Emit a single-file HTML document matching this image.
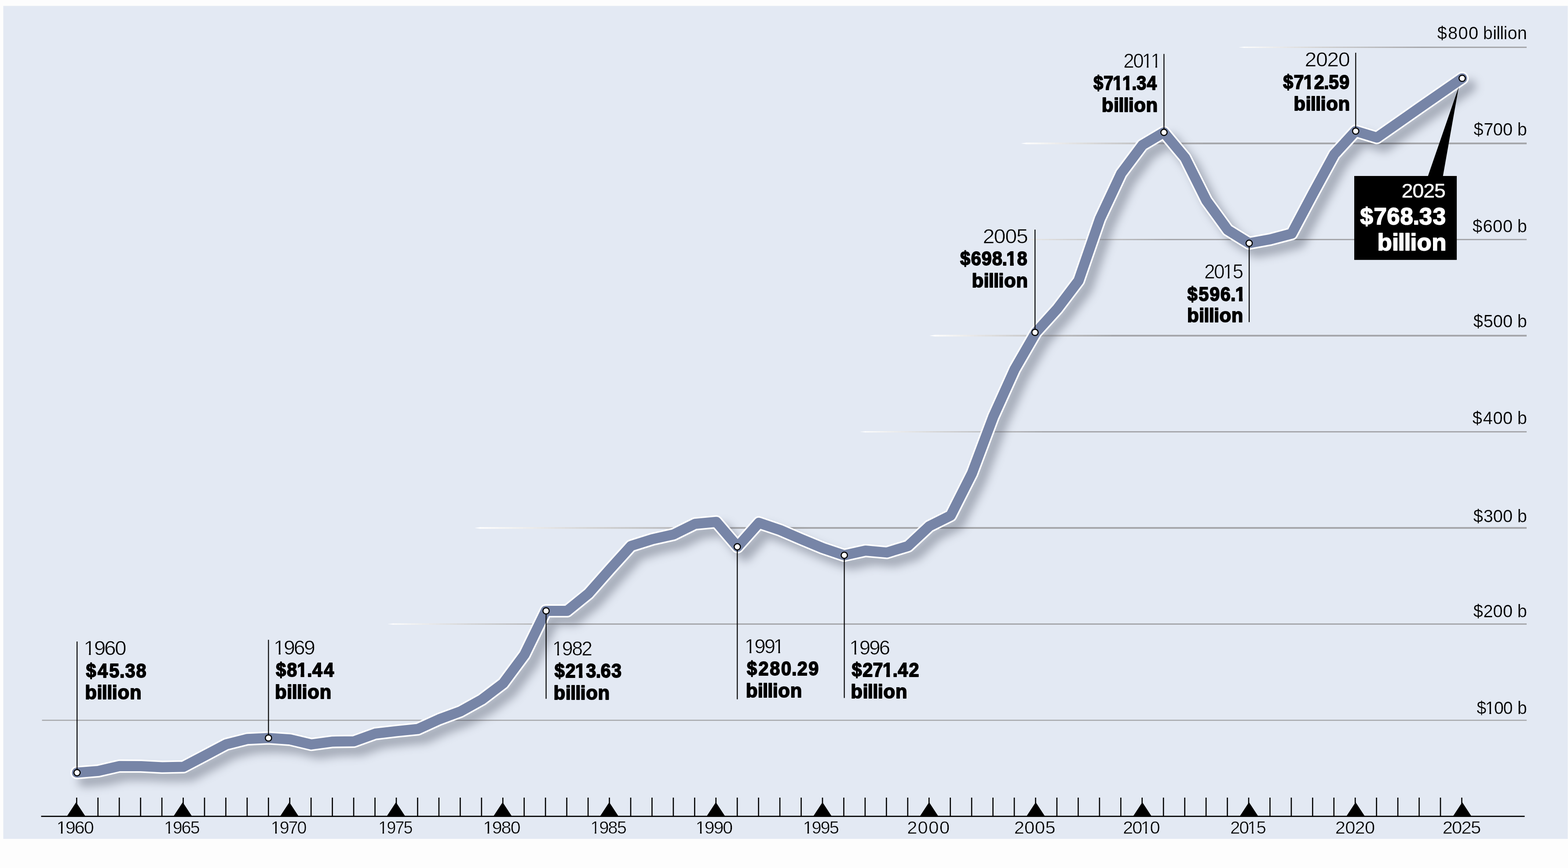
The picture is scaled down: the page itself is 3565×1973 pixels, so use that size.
<!DOCTYPE html>
<html lang="en"><head><meta charset="utf-8"><title>US military spending 1960-2025</title>
<style>
html,body{margin:0;padding:0;background:#fdfdfd;}
body{width:3565px;height:1973px;overflow:hidden;}
svg{display:block;}
text{font-family:"Liberation Sans",sans-serif;white-space:pre;}
.casing{filter:drop-shadow(17px 18px 10px rgba(28,36,54,0.31));}
</style></head><body>
<svg width="3565" height="1973" viewBox="0 0 3565 1973" role="img" aria-label="US military spending, 1960 to 2025">
<rect x="0" y="0" width="3565" height="1973" fill="#fdfdfd"/>
<rect x="7.5" y="13.4" width="3556.9" height="1893.4" fill="#e3e9f3"/>
<g>
<path d="M2816,107.5 L2830,106.0 L2830,109.0 Z" fill="#ffffff"/>
<rect x="2830" y="106.0" width="8.5" height="3" fill="#fbfbfb"/>
<rect x="2838" y="106.0" width="8.5" height="3" fill="#f9f9f9"/>
<rect x="2846" y="106.0" width="8.5" height="3" fill="#f8f8f8"/>
<rect x="2854" y="106.0" width="8.5" height="3" fill="#f6f6f6"/>
<rect x="2862" y="106.0" width="8.5" height="3" fill="#f4f4f4"/>
<rect x="2870" y="106.0" width="8.5" height="3" fill="#f2f2f2"/>
<rect x="2878" y="106.0" width="8.5" height="3" fill="#f0f0f0"/>
<rect x="2886" y="106.0" width="8.5" height="3" fill="#eeeeee"/>
<rect x="2894" y="106.0" width="8.5" height="3" fill="#ececec"/>
<rect x="2902" y="106.0" width="8.5" height="3" fill="#eaeaeb"/>
<rect x="2910" y="106.0" width="8.5" height="3" fill="#e8e8e9"/>
<rect x="2918" y="106.0" width="8.5" height="3" fill="#e6e6e7"/>
<rect x="2926" y="106.0" width="8.5" height="3" fill="#e4e4e5"/>
<rect x="2934" y="106.0" width="8.5" height="3" fill="#e2e2e3"/>
<rect x="2942" y="106.0" width="8.5" height="3" fill="#e0e0e1"/>
<rect x="2950" y="106.0" width="8.5" height="3" fill="#dfdfdf"/>
<rect x="2958" y="106.0" width="8.5" height="3" fill="#dddddd"/>
<rect x="2966" y="106.0" width="8.5" height="3" fill="#dbdbdb"/>
<rect x="2974" y="106.0" width="8.5" height="3" fill="#d9d9d9"/>
<rect x="2982" y="106.0" width="8.5" height="3" fill="#d7d7d8"/>
<rect x="2990" y="106.0" width="8.5" height="3" fill="#d5d5d6"/>
<rect x="2998" y="106.0" width="8.5" height="3" fill="#d3d3d4"/>
<rect x="3006" y="106.0" width="8.5" height="3" fill="#d1d1d2"/>
<rect x="3014" y="106.0" width="8.5" height="3" fill="#d0d0d1"/>
<rect x="3022" y="106.0" width="8.5" height="3" fill="#cececf"/>
<rect x="3030" y="106.0" width="8.5" height="3" fill="#cccdce"/>
<rect x="3038" y="106.0" width="8.5" height="3" fill="#cbcbcd"/>
<rect x="3046" y="106.0" width="8.5" height="3" fill="#c9cacb"/>
<rect x="3054" y="106.0" width="8.5" height="3" fill="#c8c8ca"/>
<rect x="3062" y="106.0" width="8.5" height="3" fill="#c6c7c8"/>
<rect x="3070" y="106.0" width="8.5" height="3" fill="#c5c5c7"/>
<rect x="3078" y="106.0" width="8.5" height="3" fill="#c3c4c6"/>
<rect x="3086" y="106.0" width="8.5" height="3" fill="#c2c2c4"/>
<rect x="3094" y="106.0" width="8.5" height="3" fill="#c0c1c3"/>
<rect x="3102" y="106.0" width="8.5" height="3" fill="#bfbfc2"/>
<rect x="3110" y="106.0" width="8.5" height="3" fill="#bdbec0"/>
<rect x="3118" y="106.0" width="8.5" height="3" fill="#bcbcbf"/>
<rect x="3126" y="106.0" width="8.5" height="3" fill="#babbbd"/>
<rect x="3134" y="106.0" width="8.5" height="3" fill="#b9b9bc"/>
<rect x="3142" y="106.0" width="8.5" height="3" fill="#b7b8bb"/>
<rect x="3150" y="106.0" width="8.5" height="3" fill="#b6b6b9"/>
<rect x="3158" y="106.0" width="8.5" height="3" fill="#b4b5b8"/>
<rect x="3166" y="106.0" width="8.5" height="3" fill="#b3b3b6"/>
<rect x="3174" y="106.0" width="8.5" height="3" fill="#b1b2b5"/>
<rect x="3182" y="106.0" width="8.5" height="3" fill="#b0b0b4"/>
<rect x="3190" y="106.0" width="8.5" height="3" fill="#aeafb2"/>
<rect x="3198" y="106.0" width="8.5" height="3" fill="#acadb1"/>
<rect x="3206" y="106.0" width="8.5" height="3" fill="#abacb0"/>
<rect x="3214" y="106.0" width="8.5" height="3" fill="#a9aaae"/>
<rect x="3222" y="106.0" width="8.5" height="3" fill="#a8a9ad"/>
<rect x="3230" y="106.0" width="6.5" height="3" fill="#a6a7ab"/>
<rect x="3236" y="106.0" width="235.0" height="3" fill="#a6a7ab"/>
</g>
<g>
<path d="M2321,326.0 L2335,324.0 L2335,328.0 Z" fill="#ffffff"/>
<rect x="2335" y="324.0" width="8.5" height="4" fill="#fbfbfb"/>
<rect x="2343" y="324.0" width="8.5" height="4" fill="#f9f9f9"/>
<rect x="2351" y="324.0" width="8.5" height="4" fill="#f8f8f8"/>
<rect x="2359" y="324.0" width="8.5" height="4" fill="#f6f6f6"/>
<rect x="2367" y="324.0" width="8.5" height="4" fill="#f4f4f4"/>
<rect x="2375" y="324.0" width="8.5" height="4" fill="#f2f2f2"/>
<rect x="2383" y="324.0" width="8.5" height="4" fill="#f0f0f0"/>
<rect x="2391" y="324.0" width="8.5" height="4" fill="#eeeeee"/>
<rect x="2399" y="324.0" width="8.5" height="4" fill="#ececec"/>
<rect x="2407" y="324.0" width="8.5" height="4" fill="#eaeaeb"/>
<rect x="2415" y="324.0" width="8.5" height="4" fill="#e8e8e9"/>
<rect x="2423" y="324.0" width="8.5" height="4" fill="#e6e6e7"/>
<rect x="2431" y="324.0" width="8.5" height="4" fill="#e4e4e5"/>
<rect x="2439" y="324.0" width="8.5" height="4" fill="#e2e2e3"/>
<rect x="2447" y="324.0" width="8.5" height="4" fill="#e0e0e1"/>
<rect x="2455" y="324.0" width="8.5" height="4" fill="#dfdfdf"/>
<rect x="2463" y="324.0" width="8.5" height="4" fill="#dddddd"/>
<rect x="2471" y="324.0" width="8.5" height="4" fill="#dbdbdb"/>
<rect x="2479" y="324.0" width="8.5" height="4" fill="#d9d9d9"/>
<rect x="2487" y="324.0" width="8.5" height="4" fill="#d7d7d8"/>
<rect x="2495" y="324.0" width="8.5" height="4" fill="#d5d5d6"/>
<rect x="2503" y="324.0" width="8.5" height="4" fill="#d3d3d4"/>
<rect x="2511" y="324.0" width="8.5" height="4" fill="#d1d1d2"/>
<rect x="2519" y="324.0" width="8.5" height="4" fill="#d0d0d1"/>
<rect x="2527" y="324.0" width="8.5" height="4" fill="#cececf"/>
<rect x="2535" y="324.0" width="8.5" height="4" fill="#cccdce"/>
<rect x="2543" y="324.0" width="8.5" height="4" fill="#cbcbcd"/>
<rect x="2551" y="324.0" width="8.5" height="4" fill="#c9cacb"/>
<rect x="2559" y="324.0" width="8.5" height="4" fill="#c8c8ca"/>
<rect x="2567" y="324.0" width="8.5" height="4" fill="#c6c7c8"/>
<rect x="2575" y="324.0" width="8.5" height="4" fill="#c5c5c7"/>
<rect x="2583" y="324.0" width="8.5" height="4" fill="#c3c4c6"/>
<rect x="2591" y="324.0" width="8.5" height="4" fill="#c2c2c4"/>
<rect x="2599" y="324.0" width="8.5" height="4" fill="#c0c1c3"/>
<rect x="2607" y="324.0" width="8.5" height="4" fill="#bfbfc2"/>
<rect x="2615" y="324.0" width="8.5" height="4" fill="#bdbec0"/>
<rect x="2623" y="324.0" width="8.5" height="4" fill="#bcbcbf"/>
<rect x="2631" y="324.0" width="8.5" height="4" fill="#babbbd"/>
<rect x="2639" y="324.0" width="8.5" height="4" fill="#b9b9bc"/>
<rect x="2647" y="324.0" width="8.5" height="4" fill="#b7b8bb"/>
<rect x="2655" y="324.0" width="8.5" height="4" fill="#b6b6b9"/>
<rect x="2663" y="324.0" width="8.5" height="4" fill="#b4b5b8"/>
<rect x="2671" y="324.0" width="8.5" height="4" fill="#b3b3b6"/>
<rect x="2679" y="324.0" width="8.5" height="4" fill="#b1b2b5"/>
<rect x="2687" y="324.0" width="8.5" height="4" fill="#b0b0b4"/>
<rect x="2695" y="324.0" width="8.5" height="4" fill="#aeafb2"/>
<rect x="2703" y="324.0" width="8.5" height="4" fill="#acadb1"/>
<rect x="2711" y="324.0" width="8.5" height="4" fill="#abacb0"/>
<rect x="2719" y="324.0" width="8.5" height="4" fill="#a9aaae"/>
<rect x="2727" y="324.0" width="8.5" height="4" fill="#a8a9ad"/>
<rect x="2735" y="324.0" width="6.5" height="4" fill="#a6a7ab"/>
<rect x="2741" y="324.0" width="730.0" height="4" fill="#a6a7ab"/>
</g>
<g>
<path d="M2243,544.5 L2257,543.0 L2257,546.0 Z" fill="#ffffff"/>
<rect x="2257" y="543.0" width="8.5" height="3" fill="#fbfbfb"/>
<rect x="2265" y="543.0" width="8.5" height="3" fill="#f9f9f9"/>
<rect x="2273" y="543.0" width="8.5" height="3" fill="#f8f8f8"/>
<rect x="2281" y="543.0" width="8.5" height="3" fill="#f6f6f6"/>
<rect x="2289" y="543.0" width="8.5" height="3" fill="#f4f4f4"/>
<rect x="2297" y="543.0" width="8.5" height="3" fill="#f2f2f2"/>
<rect x="2305" y="543.0" width="8.5" height="3" fill="#f0f0f0"/>
<rect x="2313" y="543.0" width="8.5" height="3" fill="#eeeeee"/>
<rect x="2321" y="543.0" width="8.5" height="3" fill="#ececec"/>
<rect x="2329" y="543.0" width="8.5" height="3" fill="#eaeaeb"/>
<rect x="2337" y="543.0" width="8.5" height="3" fill="#e8e8e9"/>
<rect x="2345" y="543.0" width="8.5" height="3" fill="#e6e6e7"/>
<rect x="2353" y="543.0" width="8.5" height="3" fill="#e4e4e5"/>
<rect x="2361" y="543.0" width="8.5" height="3" fill="#e2e2e3"/>
<rect x="2369" y="543.0" width="8.5" height="3" fill="#e0e0e1"/>
<rect x="2377" y="543.0" width="8.5" height="3" fill="#dfdfdf"/>
<rect x="2385" y="543.0" width="8.5" height="3" fill="#dddddd"/>
<rect x="2393" y="543.0" width="8.5" height="3" fill="#dbdbdb"/>
<rect x="2401" y="543.0" width="8.5" height="3" fill="#d9d9d9"/>
<rect x="2409" y="543.0" width="8.5" height="3" fill="#d7d7d8"/>
<rect x="2417" y="543.0" width="8.5" height="3" fill="#d5d5d6"/>
<rect x="2425" y="543.0" width="8.5" height="3" fill="#d3d3d4"/>
<rect x="2433" y="543.0" width="8.5" height="3" fill="#d1d1d2"/>
<rect x="2441" y="543.0" width="8.5" height="3" fill="#d0d0d1"/>
<rect x="2449" y="543.0" width="8.5" height="3" fill="#cececf"/>
<rect x="2457" y="543.0" width="8.5" height="3" fill="#cccdce"/>
<rect x="2465" y="543.0" width="8.5" height="3" fill="#cbcbcd"/>
<rect x="2473" y="543.0" width="8.5" height="3" fill="#c9cacb"/>
<rect x="2481" y="543.0" width="8.5" height="3" fill="#c8c8ca"/>
<rect x="2489" y="543.0" width="8.5" height="3" fill="#c6c7c8"/>
<rect x="2497" y="543.0" width="8.5" height="3" fill="#c5c5c7"/>
<rect x="2505" y="543.0" width="8.5" height="3" fill="#c3c4c6"/>
<rect x="2513" y="543.0" width="8.5" height="3" fill="#c2c2c4"/>
<rect x="2521" y="543.0" width="8.5" height="3" fill="#c0c1c3"/>
<rect x="2529" y="543.0" width="8.5" height="3" fill="#bfbfc2"/>
<rect x="2537" y="543.0" width="8.5" height="3" fill="#bdbec0"/>
<rect x="2545" y="543.0" width="8.5" height="3" fill="#bcbcbf"/>
<rect x="2553" y="543.0" width="8.5" height="3" fill="#babbbd"/>
<rect x="2561" y="543.0" width="8.5" height="3" fill="#b9b9bc"/>
<rect x="2569" y="543.0" width="8.5" height="3" fill="#b7b8bb"/>
<rect x="2577" y="543.0" width="8.5" height="3" fill="#b6b6b9"/>
<rect x="2585" y="543.0" width="8.5" height="3" fill="#b4b5b8"/>
<rect x="2593" y="543.0" width="8.5" height="3" fill="#b3b3b6"/>
<rect x="2601" y="543.0" width="8.5" height="3" fill="#b1b2b5"/>
<rect x="2609" y="543.0" width="8.5" height="3" fill="#b0b0b4"/>
<rect x="2617" y="543.0" width="8.5" height="3" fill="#aeafb2"/>
<rect x="2625" y="543.0" width="8.5" height="3" fill="#acadb1"/>
<rect x="2633" y="543.0" width="8.5" height="3" fill="#abacb0"/>
<rect x="2641" y="543.0" width="8.5" height="3" fill="#a9aaae"/>
<rect x="2649" y="543.0" width="8.5" height="3" fill="#a8a9ad"/>
<rect x="2657" y="543.0" width="6.5" height="3" fill="#a6a7ab"/>
<rect x="2663" y="543.0" width="808.0" height="3" fill="#a6a7ab"/>
</g>
<g>
<path d="M2113,763.0 L2127,761.0 L2127,765.0 Z" fill="#ffffff"/>
<rect x="2127" y="761.0" width="8.5" height="4" fill="#fbfbfb"/>
<rect x="2135" y="761.0" width="8.5" height="4" fill="#f9f9f9"/>
<rect x="2143" y="761.0" width="8.5" height="4" fill="#f8f8f8"/>
<rect x="2151" y="761.0" width="8.5" height="4" fill="#f6f6f6"/>
<rect x="2159" y="761.0" width="8.5" height="4" fill="#f4f4f4"/>
<rect x="2167" y="761.0" width="8.5" height="4" fill="#f2f2f2"/>
<rect x="2175" y="761.0" width="8.5" height="4" fill="#f0f0f0"/>
<rect x="2183" y="761.0" width="8.5" height="4" fill="#eeeeee"/>
<rect x="2191" y="761.0" width="8.5" height="4" fill="#ececec"/>
<rect x="2199" y="761.0" width="8.5" height="4" fill="#eaeaeb"/>
<rect x="2207" y="761.0" width="8.5" height="4" fill="#e8e8e9"/>
<rect x="2215" y="761.0" width="8.5" height="4" fill="#e6e6e7"/>
<rect x="2223" y="761.0" width="8.5" height="4" fill="#e4e4e5"/>
<rect x="2231" y="761.0" width="8.5" height="4" fill="#e2e2e3"/>
<rect x="2239" y="761.0" width="8.5" height="4" fill="#e0e0e1"/>
<rect x="2247" y="761.0" width="8.5" height="4" fill="#dfdfdf"/>
<rect x="2255" y="761.0" width="8.5" height="4" fill="#dddddd"/>
<rect x="2263" y="761.0" width="8.5" height="4" fill="#dbdbdb"/>
<rect x="2271" y="761.0" width="8.5" height="4" fill="#d9d9d9"/>
<rect x="2279" y="761.0" width="8.5" height="4" fill="#d7d7d8"/>
<rect x="2287" y="761.0" width="8.5" height="4" fill="#d5d5d6"/>
<rect x="2295" y="761.0" width="8.5" height="4" fill="#d3d3d4"/>
<rect x="2303" y="761.0" width="8.5" height="4" fill="#d1d1d2"/>
<rect x="2311" y="761.0" width="8.5" height="4" fill="#d0d0d1"/>
<rect x="2319" y="761.0" width="8.5" height="4" fill="#cececf"/>
<rect x="2327" y="761.0" width="8.5" height="4" fill="#cccdce"/>
<rect x="2335" y="761.0" width="8.5" height="4" fill="#cbcbcd"/>
<rect x="2343" y="761.0" width="8.5" height="4" fill="#c9cacb"/>
<rect x="2351" y="761.0" width="8.5" height="4" fill="#c8c8ca"/>
<rect x="2359" y="761.0" width="8.5" height="4" fill="#c6c7c8"/>
<rect x="2367" y="761.0" width="8.5" height="4" fill="#c5c5c7"/>
<rect x="2375" y="761.0" width="8.5" height="4" fill="#c3c4c6"/>
<rect x="2383" y="761.0" width="8.5" height="4" fill="#c2c2c4"/>
<rect x="2391" y="761.0" width="8.5" height="4" fill="#c0c1c3"/>
<rect x="2399" y="761.0" width="8.5" height="4" fill="#bfbfc2"/>
<rect x="2407" y="761.0" width="8.5" height="4" fill="#bdbec0"/>
<rect x="2415" y="761.0" width="8.5" height="4" fill="#bcbcbf"/>
<rect x="2423" y="761.0" width="8.5" height="4" fill="#babbbd"/>
<rect x="2431" y="761.0" width="8.5" height="4" fill="#b9b9bc"/>
<rect x="2439" y="761.0" width="8.5" height="4" fill="#b7b8bb"/>
<rect x="2447" y="761.0" width="8.5" height="4" fill="#b6b6b9"/>
<rect x="2455" y="761.0" width="8.5" height="4" fill="#b4b5b8"/>
<rect x="2463" y="761.0" width="8.5" height="4" fill="#b3b3b6"/>
<rect x="2471" y="761.0" width="8.5" height="4" fill="#b1b2b5"/>
<rect x="2479" y="761.0" width="8.5" height="4" fill="#b0b0b4"/>
<rect x="2487" y="761.0" width="8.5" height="4" fill="#aeafb2"/>
<rect x="2495" y="761.0" width="8.5" height="4" fill="#acadb1"/>
<rect x="2503" y="761.0" width="8.5" height="4" fill="#abacb0"/>
<rect x="2511" y="761.0" width="8.5" height="4" fill="#a9aaae"/>
<rect x="2519" y="761.0" width="8.5" height="4" fill="#a8a9ad"/>
<rect x="2527" y="761.0" width="6.5" height="4" fill="#a6a7ab"/>
<rect x="2533" y="761.0" width="938.0" height="4" fill="#a6a7ab"/>
</g>
<g>
<path d="M1955,981.5 L1969,980.0 L1969,983.0 Z" fill="#ffffff"/>
<rect x="1969" y="980.0" width="8.5" height="3" fill="#fbfbfb"/>
<rect x="1977" y="980.0" width="8.5" height="3" fill="#f9f9f9"/>
<rect x="1985" y="980.0" width="8.5" height="3" fill="#f8f8f8"/>
<rect x="1993" y="980.0" width="8.5" height="3" fill="#f6f6f6"/>
<rect x="2001" y="980.0" width="8.5" height="3" fill="#f4f4f4"/>
<rect x="2009" y="980.0" width="8.5" height="3" fill="#f2f2f2"/>
<rect x="2017" y="980.0" width="8.5" height="3" fill="#f0f0f0"/>
<rect x="2025" y="980.0" width="8.5" height="3" fill="#eeeeee"/>
<rect x="2033" y="980.0" width="8.5" height="3" fill="#ececec"/>
<rect x="2041" y="980.0" width="8.5" height="3" fill="#eaeaeb"/>
<rect x="2049" y="980.0" width="8.5" height="3" fill="#e8e8e9"/>
<rect x="2057" y="980.0" width="8.5" height="3" fill="#e6e6e7"/>
<rect x="2065" y="980.0" width="8.5" height="3" fill="#e4e4e5"/>
<rect x="2073" y="980.0" width="8.5" height="3" fill="#e2e2e3"/>
<rect x="2081" y="980.0" width="8.5" height="3" fill="#e0e0e1"/>
<rect x="2089" y="980.0" width="8.5" height="3" fill="#dfdfdf"/>
<rect x="2097" y="980.0" width="8.5" height="3" fill="#dddddd"/>
<rect x="2105" y="980.0" width="8.5" height="3" fill="#dbdbdb"/>
<rect x="2113" y="980.0" width="8.5" height="3" fill="#d9d9d9"/>
<rect x="2121" y="980.0" width="8.5" height="3" fill="#d7d7d8"/>
<rect x="2129" y="980.0" width="8.5" height="3" fill="#d5d5d6"/>
<rect x="2137" y="980.0" width="8.5" height="3" fill="#d3d3d4"/>
<rect x="2145" y="980.0" width="8.5" height="3" fill="#d1d1d2"/>
<rect x="2153" y="980.0" width="8.5" height="3" fill="#d0d0d1"/>
<rect x="2161" y="980.0" width="8.5" height="3" fill="#cececf"/>
<rect x="2169" y="980.0" width="8.5" height="3" fill="#cccdce"/>
<rect x="2177" y="980.0" width="8.5" height="3" fill="#cbcbcd"/>
<rect x="2185" y="980.0" width="8.5" height="3" fill="#c9cacb"/>
<rect x="2193" y="980.0" width="8.5" height="3" fill="#c8c8ca"/>
<rect x="2201" y="980.0" width="8.5" height="3" fill="#c6c7c8"/>
<rect x="2209" y="980.0" width="8.5" height="3" fill="#c5c5c7"/>
<rect x="2217" y="980.0" width="8.5" height="3" fill="#c3c4c6"/>
<rect x="2225" y="980.0" width="8.5" height="3" fill="#c2c2c4"/>
<rect x="2233" y="980.0" width="8.5" height="3" fill="#c0c1c3"/>
<rect x="2241" y="980.0" width="8.5" height="3" fill="#bfbfc2"/>
<rect x="2249" y="980.0" width="8.5" height="3" fill="#bdbec0"/>
<rect x="2257" y="980.0" width="8.5" height="3" fill="#bcbcbf"/>
<rect x="2265" y="980.0" width="8.5" height="3" fill="#babbbd"/>
<rect x="2273" y="980.0" width="8.5" height="3" fill="#b9b9bc"/>
<rect x="2281" y="980.0" width="8.5" height="3" fill="#b7b8bb"/>
<rect x="2289" y="980.0" width="8.5" height="3" fill="#b6b6b9"/>
<rect x="2297" y="980.0" width="8.5" height="3" fill="#b4b5b8"/>
<rect x="2305" y="980.0" width="8.5" height="3" fill="#b3b3b6"/>
<rect x="2313" y="980.0" width="8.5" height="3" fill="#b1b2b5"/>
<rect x="2321" y="980.0" width="8.5" height="3" fill="#b0b0b4"/>
<rect x="2329" y="980.0" width="8.5" height="3" fill="#aeafb2"/>
<rect x="2337" y="980.0" width="8.5" height="3" fill="#acadb1"/>
<rect x="2345" y="980.0" width="8.5" height="3" fill="#abacb0"/>
<rect x="2353" y="980.0" width="8.5" height="3" fill="#a9aaae"/>
<rect x="2361" y="980.0" width="8.5" height="3" fill="#a8a9ad"/>
<rect x="2369" y="980.0" width="6.5" height="3" fill="#a6a7ab"/>
<rect x="2375" y="980.0" width="1096.0" height="3" fill="#a6a7ab"/>
</g>
<g>
<path d="M1079,1200.0 L1093,1198.0 L1093,1202.0 Z" fill="#ffffff"/>
<rect x="1093" y="1198.0" width="8.5" height="4" fill="#fcfcfc"/>
<rect x="1101" y="1198.0" width="8.5" height="4" fill="#fbfbfb"/>
<rect x="1109" y="1198.0" width="8.5" height="4" fill="#fafafa"/>
<rect x="1117" y="1198.0" width="8.5" height="4" fill="#f9f9f9"/>
<rect x="1125" y="1198.0" width="8.5" height="4" fill="#f8f8f8"/>
<rect x="1133" y="1198.0" width="8.5" height="4" fill="#f6f6f6"/>
<rect x="1141" y="1198.0" width="8.5" height="4" fill="#f5f5f5"/>
<rect x="1149" y="1198.0" width="8.5" height="4" fill="#f4f4f4"/>
<rect x="1157" y="1198.0" width="8.5" height="4" fill="#f3f3f3"/>
<rect x="1165" y="1198.0" width="8.5" height="4" fill="#f1f1f1"/>
<rect x="1173" y="1198.0" width="8.5" height="4" fill="#f0f0f0"/>
<rect x="1181" y="1198.0" width="8.5" height="4" fill="#efefef"/>
<rect x="1189" y="1198.0" width="8.5" height="4" fill="#ededee"/>
<rect x="1197" y="1198.0" width="8.5" height="4" fill="#ececec"/>
<rect x="1205" y="1198.0" width="8.5" height="4" fill="#ebebeb"/>
<rect x="1213" y="1198.0" width="8.5" height="4" fill="#e9e9ea"/>
<rect x="1221" y="1198.0" width="8.5" height="4" fill="#e8e8e8"/>
<rect x="1229" y="1198.0" width="8.5" height="4" fill="#e7e7e7"/>
<rect x="1237" y="1198.0" width="8.5" height="4" fill="#e5e5e6"/>
<rect x="1245" y="1198.0" width="8.5" height="4" fill="#e4e4e5"/>
<rect x="1253" y="1198.0" width="8.5" height="4" fill="#e3e3e3"/>
<rect x="1261" y="1198.0" width="8.5" height="4" fill="#e1e1e2"/>
<rect x="1269" y="1198.0" width="8.5" height="4" fill="#e0e0e1"/>
<rect x="1277" y="1198.0" width="8.5" height="4" fill="#dfdfdf"/>
<rect x="1285" y="1198.0" width="8.5" height="4" fill="#ddddde"/>
<rect x="1293" y="1198.0" width="8.5" height="4" fill="#dcdcdd"/>
<rect x="1301" y="1198.0" width="8.5" height="4" fill="#dbdbdc"/>
<rect x="1309" y="1198.0" width="8.5" height="4" fill="#d9d9da"/>
<rect x="1317" y="1198.0" width="8.5" height="4" fill="#d8d8d9"/>
<rect x="1325" y="1198.0" width="8.5" height="4" fill="#d7d7d8"/>
<rect x="1333" y="1198.0" width="8.5" height="4" fill="#d5d5d6"/>
<rect x="1341" y="1198.0" width="8.5" height="4" fill="#d4d4d5"/>
<rect x="1349" y="1198.0" width="8.5" height="4" fill="#d3d3d4"/>
<rect x="1357" y="1198.0" width="8.5" height="4" fill="#d2d2d3"/>
<rect x="1365" y="1198.0" width="8.5" height="4" fill="#d1d1d2"/>
<rect x="1373" y="1198.0" width="8.5" height="4" fill="#d0d0d1"/>
<rect x="1381" y="1198.0" width="8.5" height="4" fill="#cfcfd0"/>
<rect x="1389" y="1198.0" width="8.5" height="4" fill="#cdcecf"/>
<rect x="1397" y="1198.0" width="8.5" height="4" fill="#cccdce"/>
<rect x="1405" y="1198.0" width="8.5" height="4" fill="#cbcccd"/>
<rect x="1413" y="1198.0" width="8.5" height="4" fill="#cacbcc"/>
<rect x="1421" y="1198.0" width="8.5" height="4" fill="#c9cacb"/>
<rect x="1429" y="1198.0" width="8.5" height="4" fill="#c8c9ca"/>
<rect x="1437" y="1198.0" width="8.5" height="4" fill="#c7c8c9"/>
<rect x="1445" y="1198.0" width="8.5" height="4" fill="#c6c7c8"/>
<rect x="1453" y="1198.0" width="8.5" height="4" fill="#c5c6c7"/>
<rect x="1461" y="1198.0" width="8.5" height="4" fill="#c4c5c6"/>
<rect x="1469" y="1198.0" width="8.5" height="4" fill="#c3c3c6"/>
<rect x="1477" y="1198.0" width="8.5" height="4" fill="#c2c2c5"/>
<rect x="1485" y="1198.0" width="8.5" height="4" fill="#c1c1c4"/>
<rect x="1493" y="1198.0" width="8.5" height="4" fill="#c0c0c3"/>
<rect x="1501" y="1198.0" width="8.5" height="4" fill="#bfbfc2"/>
<rect x="1509" y="1198.0" width="8.5" height="4" fill="#bebec1"/>
<rect x="1517" y="1198.0" width="8.5" height="4" fill="#bdbdc0"/>
<rect x="1525" y="1198.0" width="8.5" height="4" fill="#bcbcbf"/>
<rect x="1533" y="1198.0" width="8.5" height="4" fill="#bbbbbe"/>
<rect x="1541" y="1198.0" width="8.5" height="4" fill="#bababd"/>
<rect x="1549" y="1198.0" width="8.5" height="4" fill="#b9b9bc"/>
<rect x="1557" y="1198.0" width="8.5" height="4" fill="#b8b8bb"/>
<rect x="1565" y="1198.0" width="8.5" height="4" fill="#b7b7ba"/>
<rect x="1573" y="1198.0" width="8.5" height="4" fill="#b6b6b9"/>
<rect x="1581" y="1198.0" width="8.5" height="4" fill="#b5b5b8"/>
<rect x="1589" y="1198.0" width="8.5" height="4" fill="#b4b4b7"/>
<rect x="1597" y="1198.0" width="8.5" height="4" fill="#b3b3b6"/>
<rect x="1605" y="1198.0" width="8.5" height="4" fill="#b2b2b6"/>
<rect x="1613" y="1198.0" width="8.5" height="4" fill="#b1b1b5"/>
<rect x="1621" y="1198.0" width="8.5" height="4" fill="#b0b0b4"/>
<rect x="1629" y="1198.0" width="8.5" height="4" fill="#afafb3"/>
<rect x="1637" y="1198.0" width="8.5" height="4" fill="#adaeb2"/>
<rect x="1645" y="1198.0" width="8.5" height="4" fill="#acadb1"/>
<rect x="1653" y="1198.0" width="8.5" height="4" fill="#abacb0"/>
<rect x="1661" y="1198.0" width="8.5" height="4" fill="#aaabaf"/>
<rect x="1669" y="1198.0" width="8.5" height="4" fill="#a9aaae"/>
<rect x="1677" y="1198.0" width="8.5" height="4" fill="#a8a9ad"/>
<rect x="1685" y="1198.0" width="8.5" height="4" fill="#a7a8ac"/>
<rect x="1693" y="1198.0" width="6.5" height="4" fill="#a6a7ab"/>
<rect x="1699" y="1198.0" width="1772.0" height="4" fill="#a6a7ab"/>
</g>
<g>
<path d="M881,1418.5 L895,1417.0 L895,1420.0 Z" fill="#ffffff"/>
<rect x="895" y="1417.0" width="8.5" height="3" fill="#fbfbfb"/>
<rect x="903" y="1417.0" width="8.5" height="3" fill="#f9f9f9"/>
<rect x="911" y="1417.0" width="8.5" height="3" fill="#f8f8f8"/>
<rect x="919" y="1417.0" width="8.5" height="3" fill="#f6f6f6"/>
<rect x="927" y="1417.0" width="8.5" height="3" fill="#f4f4f4"/>
<rect x="935" y="1417.0" width="8.5" height="3" fill="#f2f2f2"/>
<rect x="943" y="1417.0" width="8.5" height="3" fill="#f0f0f0"/>
<rect x="951" y="1417.0" width="8.5" height="3" fill="#eeeeee"/>
<rect x="959" y="1417.0" width="8.5" height="3" fill="#ececec"/>
<rect x="967" y="1417.0" width="8.5" height="3" fill="#eaeaeb"/>
<rect x="975" y="1417.0" width="8.5" height="3" fill="#e8e8e9"/>
<rect x="983" y="1417.0" width="8.5" height="3" fill="#e6e6e7"/>
<rect x="991" y="1417.0" width="8.5" height="3" fill="#e4e4e5"/>
<rect x="999" y="1417.0" width="8.5" height="3" fill="#e2e2e3"/>
<rect x="1007" y="1417.0" width="8.5" height="3" fill="#e0e0e1"/>
<rect x="1015" y="1417.0" width="8.5" height="3" fill="#dfdfdf"/>
<rect x="1023" y="1417.0" width="8.5" height="3" fill="#dddddd"/>
<rect x="1031" y="1417.0" width="8.5" height="3" fill="#dbdbdb"/>
<rect x="1039" y="1417.0" width="8.5" height="3" fill="#d9d9d9"/>
<rect x="1047" y="1417.0" width="8.5" height="3" fill="#d7d7d8"/>
<rect x="1055" y="1417.0" width="8.5" height="3" fill="#d5d5d6"/>
<rect x="1063" y="1417.0" width="8.5" height="3" fill="#d3d3d4"/>
<rect x="1071" y="1417.0" width="8.5" height="3" fill="#d1d1d2"/>
<rect x="1079" y="1417.0" width="8.5" height="3" fill="#d0d0d1"/>
<rect x="1087" y="1417.0" width="8.5" height="3" fill="#cececf"/>
<rect x="1095" y="1417.0" width="8.5" height="3" fill="#cccdce"/>
<rect x="1103" y="1417.0" width="8.5" height="3" fill="#cbcbcd"/>
<rect x="1111" y="1417.0" width="8.5" height="3" fill="#c9cacb"/>
<rect x="1119" y="1417.0" width="8.5" height="3" fill="#c8c8ca"/>
<rect x="1127" y="1417.0" width="8.5" height="3" fill="#c6c7c8"/>
<rect x="1135" y="1417.0" width="8.5" height="3" fill="#c5c5c7"/>
<rect x="1143" y="1417.0" width="8.5" height="3" fill="#c3c4c6"/>
<rect x="1151" y="1417.0" width="8.5" height="3" fill="#c2c2c4"/>
<rect x="1159" y="1417.0" width="8.5" height="3" fill="#c0c1c3"/>
<rect x="1167" y="1417.0" width="8.5" height="3" fill="#bfbfc2"/>
<rect x="1175" y="1417.0" width="8.5" height="3" fill="#bdbec0"/>
<rect x="1183" y="1417.0" width="8.5" height="3" fill="#bcbcbf"/>
<rect x="1191" y="1417.0" width="8.5" height="3" fill="#babbbd"/>
<rect x="1199" y="1417.0" width="8.5" height="3" fill="#b9b9bc"/>
<rect x="1207" y="1417.0" width="8.5" height="3" fill="#b7b8bb"/>
<rect x="1215" y="1417.0" width="8.5" height="3" fill="#b6b6b9"/>
<rect x="1223" y="1417.0" width="8.5" height="3" fill="#b4b5b8"/>
<rect x="1231" y="1417.0" width="8.5" height="3" fill="#b3b3b6"/>
<rect x="1239" y="1417.0" width="8.5" height="3" fill="#b1b2b5"/>
<rect x="1247" y="1417.0" width="8.5" height="3" fill="#b0b0b4"/>
<rect x="1255" y="1417.0" width="8.5" height="3" fill="#aeafb2"/>
<rect x="1263" y="1417.0" width="8.5" height="3" fill="#acadb1"/>
<rect x="1271" y="1417.0" width="8.5" height="3" fill="#abacb0"/>
<rect x="1279" y="1417.0" width="8.5" height="3" fill="#a9aaae"/>
<rect x="1287" y="1417.0" width="8.5" height="3" fill="#a8a9ad"/>
<rect x="1295" y="1417.0" width="6.5" height="3" fill="#a6a7ab"/>
<rect x="1301" y="1417.0" width="2170.0" height="3" fill="#a6a7ab"/>
</g>
<rect x="95.5" y="1635.95" width="3375.5" height="2.5" fill="#a6a7ab"/>
<text transform="translate(3268.20 88.60) scale(0.9700 1)" x="-0.57 24.53 48.68 73.01 93.96 106.78 129.85 138.17 146.50 154.86 164.21 187.30" y="0" font-size="41.0" font-weight="400" fill="#000" stroke="#e3e9f3" stroke-width="0.25" stroke-linejoin="round">$800 billion</text>
<text transform="translate(3351.10 307.80) scale(0.9700 1)" x="-0.57 22.72 45.11 67.95 88.90 101.72" y="0" font-size="41.0" font-weight="400" fill="#000" stroke="#e3e9f3" stroke-width="0.25" stroke-linejoin="round">$700 b</text>
<text transform="translate(3348.60 527.70) scale(0.9700 1)" x="-0.57 23.51 46.92 70.53 91.48 104.30" y="0" font-size="41.0" font-weight="400" fill="#000" stroke="#e3e9f3" stroke-width="0.25" stroke-linejoin="round">$600 b</text>
<text transform="translate(3350.20 743.80) scale(0.9700 1)" x="-0.57 23.22 45.99 68.88 89.83 102.65" y="0" font-size="41.0" font-weight="400" fill="#000" stroke="#e3e9f3" stroke-width="0.25" stroke-linejoin="round">$500 b</text>
<text transform="translate(3348.30 963.80) scale(0.9700 1)" x="-0.57 24.17 47.71 70.84 91.79 104.61" y="0" font-size="41.0" font-weight="400" fill="#000" stroke="#e3e9f3" stroke-width="0.25" stroke-linejoin="round">$400 b</text>
<text transform="translate(3350.20 1186.70) scale(0.9700 1)" x="-0.57 23.30 45.99 68.88 89.83 102.65" y="0" font-size="41.0" font-weight="400" fill="#000" stroke="#e3e9f3" stroke-width="0.25" stroke-linejoin="round">$300 b</text>
<text transform="translate(3350.20 1402.90) scale(0.9700 1)" x="-0.57 23.06 45.74 68.88 89.83 102.65" y="0" font-size="41.0" font-weight="400" fill="#000" stroke="#e3e9f3" stroke-width="0.25" stroke-linejoin="round">$200 b</text>
<text transform="translate(3358.00 1622.90) scale(0.9532 1)" x="-0.57 19.69 40.95 62.60 83.55 96.65" y="0" font-size="41.0" font-weight="400" fill="#000" stroke="#e3e9f3" stroke-width="0.25" stroke-linejoin="round">$100 b</text><rect x="3378.55" y="1618.24" width="7.82" height="5.86" fill="#e3e9f3"/><rect x="3390.28" y="1618.24" width="7.73" height="5.86" fill="#e3e9f3"/>
<path class="casing" d="M175.0,1756.3 L223.4,1752.4 L271.9,1741.2 L320.4,1741.6 L368.8,1744.0 L417.2,1743.0 L465.7,1717.5 L514.2,1691.8 L562.6,1679.7 L611.0,1677.5 L659.5,1680.7 L708.0,1692.2 L756.4,1685.7 L804.9,1685.0 L853.3,1667.5 L901.8,1661.9 L950.2,1657.0 L998.7,1634.9 L1047.1,1617.0 L1095.6,1590.0 L1144.0,1553.3 L1192.5,1488.0 L1240.9,1388.5 L1289.4,1388.5 L1337.8,1349.3 L1386.2,1294.5 L1434.7,1240.9 L1483.2,1225.6 L1531.6,1214.8 L1580.1,1190.8 L1628.5,1186.2 L1677.0,1242.8 L1725.4,1188.5 L1773.9,1204.9 L1822.3,1225.8 L1870.8,1245.9 L1919.2,1262.2 L1967.7,1251.5 L2016.1,1255.9 L2064.6,1241.2 L2113.0,1196.0 L2161.4,1171.9 L2209.9,1075.8 L2258.3,947.0 L2306.8,839.6 L2355.2,755.5 L2403.7,702.0 L2452.2,638.0 L2500.6,497.7 L2549.1,394.2 L2597.5,329.6 L2646.0,300.9 L2694.4,358.9 L2742.9,456.0 L2791.3,522.7 L2839.8,552.8 L2888.2,544.0 L2936.7,531.2 L2985.1,440.0 L3033.6,350.8 L3082.0,298.0 L3130.5,312.8 L3178.9,279.0 L3227.4,245.0 L3275.8,211.5 L3324.2,178.0" fill="none" stroke="#ffffff" stroke-width="30" stroke-linejoin="round" stroke-linecap="round"/>
<path d="M175.0,1756.3 L223.4,1752.4 L271.9,1741.2 L320.4,1741.6 L368.8,1744.0 L417.2,1743.0 L465.7,1717.5 L514.2,1691.8 L562.6,1679.7 L611.0,1677.5 L659.5,1680.7 L708.0,1692.2 L756.4,1685.7 L804.9,1685.0 L853.3,1667.5 L901.8,1661.9 L950.2,1657.0 L998.7,1634.9 L1047.1,1617.0 L1095.6,1590.0 L1144.0,1553.3 L1192.5,1488.0 L1240.9,1388.5 L1289.4,1388.5 L1337.8,1349.3 L1386.2,1294.5 L1434.7,1240.9 L1483.2,1225.6 L1531.6,1214.8 L1580.1,1190.8 L1628.5,1186.2 L1677.0,1242.8 L1725.4,1188.5 L1773.9,1204.9 L1822.3,1225.8 L1870.8,1245.9 L1919.2,1262.2 L1967.7,1251.5 L2016.1,1255.9 L2064.6,1241.2 L2113.0,1196.0 L2161.4,1171.9 L2209.9,1075.8 L2258.3,947.0 L2306.8,839.6 L2355.2,755.5 L2403.7,702.0 L2452.2,638.0 L2500.6,497.7 L2549.1,394.2 L2597.5,329.6 L2646.0,300.9 L2694.4,358.9 L2742.9,456.0 L2791.3,522.7 L2839.8,552.8 L2888.2,544.0 L2936.7,531.2 L2985.1,440.0 L3033.6,350.8 L3082.0,298.0 L3130.5,312.8 L3178.9,279.0 L3227.4,245.0 L3275.8,211.5 L3324.2,178.0" fill="none" stroke="#7785a7" stroke-width="23" stroke-linejoin="round" stroke-linecap="round"/>
<rect x="93.5" y="1854.25" width="3373.0" height="2.7" fill="#000"/>
<rect x="173.00" y="1813" width="2.6" height="42.6" fill="#000"/>
<rect x="221.45" y="1813" width="2.6" height="42.6" fill="#000"/>
<rect x="269.90" y="1813" width="2.6" height="42.6" fill="#000"/>
<rect x="318.35" y="1813" width="2.6" height="42.6" fill="#000"/>
<rect x="366.80" y="1813" width="2.6" height="42.6" fill="#000"/>
<rect x="415.25" y="1813" width="2.6" height="42.6" fill="#000"/>
<rect x="463.69" y="1813" width="2.6" height="42.6" fill="#000"/>
<rect x="512.14" y="1813" width="2.6" height="42.6" fill="#000"/>
<rect x="560.59" y="1813" width="2.6" height="42.6" fill="#000"/>
<rect x="609.04" y="1813" width="2.6" height="42.6" fill="#000"/>
<rect x="657.49" y="1813" width="2.6" height="42.6" fill="#000"/>
<rect x="705.94" y="1813" width="2.6" height="42.6" fill="#000"/>
<rect x="754.39" y="1813" width="2.6" height="42.6" fill="#000"/>
<rect x="802.84" y="1813" width="2.6" height="42.6" fill="#000"/>
<rect x="851.29" y="1813" width="2.6" height="42.6" fill="#000"/>
<rect x="899.74" y="1813" width="2.6" height="42.6" fill="#000"/>
<rect x="948.18" y="1813" width="2.6" height="42.6" fill="#000"/>
<rect x="996.63" y="1813" width="2.6" height="42.6" fill="#000"/>
<rect x="1045.08" y="1813" width="2.6" height="42.6" fill="#000"/>
<rect x="1093.53" y="1813" width="2.6" height="42.6" fill="#000"/>
<rect x="1141.98" y="1813" width="2.6" height="42.6" fill="#000"/>
<rect x="1190.43" y="1813" width="2.6" height="42.6" fill="#000"/>
<rect x="1238.88" y="1813" width="2.6" height="42.6" fill="#000"/>
<rect x="1287.33" y="1813" width="2.6" height="42.6" fill="#000"/>
<rect x="1335.78" y="1813" width="2.6" height="42.6" fill="#000"/>
<rect x="1384.22" y="1813" width="2.6" height="42.6" fill="#000"/>
<rect x="1432.67" y="1813" width="2.6" height="42.6" fill="#000"/>
<rect x="1481.12" y="1813" width="2.6" height="42.6" fill="#000"/>
<rect x="1529.57" y="1813" width="2.6" height="42.6" fill="#000"/>
<rect x="1578.02" y="1813" width="2.6" height="42.6" fill="#000"/>
<rect x="1626.47" y="1813" width="2.6" height="42.6" fill="#000"/>
<rect x="1674.92" y="1813" width="2.6" height="42.6" fill="#000"/>
<rect x="1723.37" y="1813" width="2.6" height="42.6" fill="#000"/>
<rect x="1771.82" y="1813" width="2.6" height="42.6" fill="#000"/>
<rect x="1820.27" y="1813" width="2.6" height="42.6" fill="#000"/>
<rect x="1868.71" y="1813" width="2.6" height="42.6" fill="#000"/>
<rect x="1917.16" y="1813" width="2.6" height="42.6" fill="#000"/>
<rect x="1965.61" y="1813" width="2.6" height="42.6" fill="#000"/>
<rect x="2014.06" y="1813" width="2.6" height="42.6" fill="#000"/>
<rect x="2062.51" y="1813" width="2.6" height="42.6" fill="#000"/>
<rect x="2110.96" y="1813" width="2.6" height="42.6" fill="#000"/>
<rect x="2159.41" y="1813" width="2.6" height="42.6" fill="#000"/>
<rect x="2207.86" y="1813" width="2.6" height="42.6" fill="#000"/>
<rect x="2256.31" y="1813" width="2.6" height="42.6" fill="#000"/>
<rect x="2304.76" y="1813" width="2.6" height="42.6" fill="#000"/>
<rect x="2353.20" y="1813" width="2.6" height="42.6" fill="#000"/>
<rect x="2401.65" y="1813" width="2.6" height="42.6" fill="#000"/>
<rect x="2450.10" y="1813" width="2.6" height="42.6" fill="#000"/>
<rect x="2498.55" y="1813" width="2.6" height="42.6" fill="#000"/>
<rect x="2547.00" y="1813" width="2.6" height="42.6" fill="#000"/>
<rect x="2595.45" y="1813" width="2.6" height="42.6" fill="#000"/>
<rect x="2643.90" y="1813" width="2.6" height="42.6" fill="#000"/>
<rect x="2692.35" y="1813" width="2.6" height="42.6" fill="#000"/>
<rect x="2740.80" y="1813" width="2.6" height="42.6" fill="#000"/>
<rect x="2789.25" y="1813" width="2.6" height="42.6" fill="#000"/>
<rect x="2837.69" y="1813" width="2.6" height="42.6" fill="#000"/>
<rect x="2886.14" y="1813" width="2.6" height="42.6" fill="#000"/>
<rect x="2934.59" y="1813" width="2.6" height="42.6" fill="#000"/>
<rect x="2983.04" y="1813" width="2.6" height="42.6" fill="#000"/>
<rect x="3031.49" y="1813" width="2.6" height="42.6" fill="#000"/>
<rect x="3079.94" y="1813" width="2.6" height="42.6" fill="#000"/>
<rect x="3128.39" y="1813" width="2.6" height="42.6" fill="#000"/>
<rect x="3176.84" y="1813" width="2.6" height="42.6" fill="#000"/>
<rect x="3225.29" y="1813" width="2.6" height="42.6" fill="#000"/>
<rect x="3273.74" y="1813" width="2.6" height="42.6" fill="#000"/>
<rect x="3322.18" y="1813" width="2.6" height="42.6" fill="#000"/>
<path d="M152.4,1855 L173.1,1823.4 L193.8,1855 Z" fill="#000"/>
<text transform="translate(132.50 1895.00) scale(1.0212 1)" x="-4.21 16.04 36.19 56.96" y="0" font-size="40.6" font-weight="400" fill="#000" stroke="#e3e9f3" stroke-width="0.6" stroke-linejoin="round">1960</text><rect x="129.76" y="1890.37" width="8.83" height="5.83" fill="#e3e9f3"/><rect x="142.34" y="1890.37" width="8.51" height="5.83" fill="#e3e9f3"/>
<path d="M394.8,1855 L415.5,1823.4 L436.2,1855 Z" fill="#000"/>
<text transform="translate(377.10 1895.00) scale(0.9743 1)" x="-4.21 16.15 36.40 57.23" y="0" font-size="40.6" font-weight="400" fill="#000" stroke="#e3e9f3" stroke-width="0.6" stroke-linejoin="round">1965</text><rect x="374.42" y="1890.37" width="8.47" height="5.83" fill="#e3e9f3"/><rect x="386.50" y="1890.37" width="8.16" height="5.83" fill="#e3e9f3"/>
<path d="M637.2,1855 L657.9,1823.4 L678.6,1855 Z" fill="#000"/>
<text transform="translate(619.90 1895.00) scale(0.9759 1)" x="-4.21 16.14 36.37 56.98" y="0" font-size="40.6" font-weight="400" fill="#000" stroke="#e3e9f3" stroke-width="0.6" stroke-linejoin="round">1970</text><rect x="617.22" y="1890.37" width="8.48" height="5.83" fill="#e3e9f3"/><rect x="629.32" y="1890.37" width="8.17" height="5.83" fill="#e3e9f3"/>
<path d="M879.6,1855 L900.3,1823.4 L921.0,1855 Z" fill="#000"/>
<text transform="translate(864.10 1895.00) scale(0.9343 1)" x="-4.21 16.24 36.57 57.24" y="0" font-size="40.6" font-weight="400" fill="#000" stroke="#e3e9f3" stroke-width="0.6" stroke-linejoin="round">1975</text><rect x="861.48" y="1890.37" width="8.16" height="5.83" fill="#e3e9f3"/><rect x="873.13" y="1890.37" width="7.86" height="5.83" fill="#e3e9f3"/>
<path d="M1122.1,1855 L1142.8,1823.4 L1163.5,1855 Z" fill="#000"/>
<text transform="translate(1102.40 1895.00) scale(1.0167 1)" x="-4.21 16.05 36.51 57.30" y="0" font-size="40.6" font-weight="400" fill="#000" stroke="#e3e9f3" stroke-width="0.6" stroke-linejoin="round">1980</text><rect x="1099.66" y="1890.37" width="8.80" height="5.83" fill="#e3e9f3"/><rect x="1112.20" y="1890.37" width="8.47" height="5.83" fill="#e3e9f3"/>
<path d="M1364.5,1855 L1385.2,1823.4 L1405.9,1855 Z" fill="#000"/>
<text transform="translate(1346.30 1895.00) scale(0.9839 1)" x="-4.21 16.12 36.65 57.48" y="0" font-size="40.6" font-weight="400" fill="#000" stroke="#e3e9f3" stroke-width="0.6" stroke-linejoin="round">1985</text><rect x="1343.61" y="1890.37" width="8.54" height="5.83" fill="#e3e9f3"/><rect x="1355.79" y="1890.37" width="8.23" height="5.83" fill="#e3e9f3"/>
<path d="M1606.9,1855 L1627.6,1823.4 L1648.3,1855 Z" fill="#000"/>
<text transform="translate(1585.60 1895.00) scale(1.0111 1)" x="-4.21 16.06 36.39 57.04" y="0" font-size="40.6" font-weight="400" fill="#000" stroke="#e3e9f3" stroke-width="0.6" stroke-linejoin="round">1990</text><rect x="1582.87" y="1890.37" width="8.75" height="5.83" fill="#e3e9f3"/><rect x="1595.35" y="1890.37" width="8.43" height="5.83" fill="#e3e9f3"/>
<path d="M1849.3,1855 L1870.0,1823.4 L1890.7,1855 Z" fill="#000"/>
<text transform="translate(1829.80 1895.00) scale(0.9796 1)" x="-4.21 16.13 36.53 57.21" y="0" font-size="40.6" font-weight="400" fill="#000" stroke="#e3e9f3" stroke-width="0.6" stroke-linejoin="round">1995</text><rect x="1827.12" y="1890.37" width="8.51" height="5.83" fill="#e3e9f3"/><rect x="1839.25" y="1890.37" width="8.20" height="5.83" fill="#e3e9f3"/>
<path d="M2091.7,1855 L2112.4,1823.4 L2133.1,1855 Z" fill="#000"/>
<text transform="translate(2064.60 1895.00) scale(1.0300 1)" x="-2.34 21.20 45.21 69.21" y="0" font-size="40.6" font-weight="400" fill="#000" stroke="#e3e9f3" stroke-width="0.6" stroke-linejoin="round">2000</text>
<path d="M2334.1,1855 L2354.8,1823.4 L2375.5,1855 Z" fill="#000"/>
<text transform="translate(2308.20 1895.00) scale(1.0300 1)" x="-2.34 20.22 43.24 66.22" y="0" font-size="40.6" font-weight="400" fill="#000" stroke="#e3e9f3" stroke-width="0.6" stroke-linejoin="round">2005</text>
<path d="M2576.5,1855 L2597.2,1823.4 L2617.9,1855 Z" fill="#000"/>
<text transform="translate(2555.50 1895.00) scale(1.0300 1)" x="-2.34 18.16 36.80 57.36" y="0" font-size="40.6" font-weight="400" fill="#000" stroke="#e3e9f3" stroke-width="0.6" stroke-linejoin="round">2010</text><rect x="2595.62" y="1890.37" width="8.26" height="5.83" fill="#e3e9f3"/><rect x="2607.66" y="1890.37" width="8.57" height="5.83" fill="#e3e9f3"/>
<path d="M2819.0,1855 L2839.7,1823.4 L2860.4,1855 Z" fill="#000"/>
<text transform="translate(2799.40 1895.00) scale(0.9938 1)" x="-2.34 18.22 36.93 57.51" y="0" font-size="40.6" font-weight="400" fill="#000" stroke="#e3e9f3" stroke-width="0.6" stroke-linejoin="round">2015</text><rect x="2838.18" y="1890.37" width="8.01" height="5.83" fill="#e3e9f3"/><rect x="2849.86" y="1890.37" width="8.30" height="5.83" fill="#e3e9f3"/>
<path d="M3061.4,1855 L3082.1,1823.4 L3102.8,1855 Z" fill="#000"/>
<text transform="translate(3038.20 1895.00) scale(1.0300 1)" x="-2.34 19.40 41.15 62.90" y="0" font-size="40.6" font-weight="400" fill="#000" stroke="#e3e9f3" stroke-width="0.6" stroke-linejoin="round">2020</text>
<path d="M3303.8,1855 L3324.5,1823.4 L3345.2,1855 Z" fill="#000"/>
<text transform="translate(3282.10 1895.00) scale(1.0300 1)" x="-2.34 18.45 39.25 60.01" y="0" font-size="40.6" font-weight="400" fill="#000" stroke="#e3e9f3" stroke-width="0.6" stroke-linejoin="round">2025</text>
<rect x="174.1" y="1458.2" width="2.2" height="298.1" fill="#000"/>
<rect x="609.3" y="1454.3" width="2.2" height="223.2" fill="#000"/>
<rect x="1240.5" y="1388.5" width="2.2" height="199.9" fill="#000"/>
<rect x="1675.2" y="1242.8" width="2.2" height="346.7" fill="#000"/>
<rect x="1918.5" y="1262.2" width="2.2" height="324.3" fill="#000"/>
<rect x="2352.1" y="521.9" width="2.2" height="233.6" fill="#000"/>
<rect x="2645.3" y="122.6" width="2.2" height="178.3" fill="#000"/>
<rect x="2839.0" y="552.8" width="2.2" height="179.4" fill="#000"/>
<rect x="3081.2" y="119.9" width="2.2" height="178.1" fill="#000"/>
<path d="M3079,399.9 H3246.7 L3316.6,197.6 L3280.7,399.9 H3312.1 V590.7 H3079 Z" fill="#000"/>
<circle cx="175.2" cy="1756.3" r="7.1" fill="#fff" stroke="#000" stroke-width="2.5"/>
<circle cx="610.4" cy="1677.5" r="7.1" fill="#fff" stroke="#000" stroke-width="2.5"/>
<circle cx="1241.6" cy="1388.5" r="7.1" fill="#fff" stroke="#000" stroke-width="2.5"/>
<circle cx="1676.3" cy="1242.8" r="7.1" fill="#fff" stroke="#000" stroke-width="2.5"/>
<circle cx="1919.6" cy="1262.2" r="7.1" fill="#fff" stroke="#000" stroke-width="2.5"/>
<circle cx="2353.2" cy="755.5" r="7.1" fill="#fff" stroke="#000" stroke-width="2.5"/>
<circle cx="2646.4" cy="300.9" r="7.1" fill="#fff" stroke="#000" stroke-width="2.5"/>
<circle cx="2840.1" cy="552.8" r="7.1" fill="#fff" stroke="#000" stroke-width="2.5"/>
<circle cx="3082.3" cy="298.0" r="7.1" fill="#fff" stroke="#000" stroke-width="2.5"/>
<circle cx="3324.4" cy="178.0" r="7.1" fill="#fff" stroke="#000" stroke-width="2.5"/>
<text transform="translate(195.10 1488.90) scale(1.0262 1)" x="-4.83 18.07 40.86 64.35" y="0" font-size="46.6" font-weight="400" fill="#000" stroke="#e3e9f3" stroke-width="0.7" stroke-linejoin="round">1960</text><rect x="192.12" y="1483.82" width="10.05" height="6.28" fill="#e3e9f3"/><rect x="206.38" y="1483.82" width="9.68" height="6.28" fill="#e3e9f3"/>
<text transform="translate(195.10 1539.70) scale(0.9500 1)" x="0.43 28.37 56.01 81.06 94.15 120.41" y="0" font-size="43.6" font-weight="700" fill="#000" stroke="#000" stroke-width="2.0" stroke-linejoin="round">$45.38</text>
<text transform="translate(195.10 1589.40) scale(1.0000 1)" x="-1.87 25.36 36.78 48.20 59.62 72.38 99.87" y="0" font-size="43.6" font-weight="700" fill="#000" stroke="#000" stroke-width="2.0" stroke-linejoin="round">billion</text>
<text transform="translate(626.80 1487.60) scale(1.0011 1)" x="-4.83 18.12 40.96 64.14" y="0" font-size="46.6" font-weight="400" fill="#000" stroke="#e3e9f3" stroke-width="0.7" stroke-linejoin="round">1969</text><rect x="623.87" y="1482.52" width="9.83" height="6.28" fill="#e3e9f3"/><rect x="637.82" y="1482.52" width="9.46" height="6.28" fill="#e3e9f3"/>
<text transform="translate(626.80 1537.60) scale(0.9500 1)" x="0.43 26.82 50.89 75.10 87.70 115.20" y="0" font-size="43.6" font-weight="700" fill="#000" stroke="#000" stroke-width="2.0" stroke-linejoin="round">$81.44</text><rect x="675.50" y="1530.55" width="8.01" height="9.25" fill="#e3e9f3"/><rect x="691.79" y="1530.55" width="7.48" height="9.25" fill="#e3e9f3"/>
<text transform="translate(626.80 1587.60) scale(1.0000 1)" x="-1.87 25.40 36.85 48.30 59.75 72.55 100.07" y="0" font-size="43.6" font-weight="700" fill="#000" stroke="#000" stroke-width="2.0" stroke-linejoin="round">billion</text>
<text transform="translate(1260.40 1489.60) scale(0.9583 1)" x="-4.83 18.22 41.50 64.64" y="0" font-size="46.6" font-weight="400" fill="#000" stroke="#e3e9f3" stroke-width="0.7" stroke-linejoin="round">1982</text><rect x="1257.54" y="1484.52" width="9.45" height="6.28" fill="#e3e9f3"/><rect x="1270.96" y="1484.52" width="9.10" height="6.28" fill="#e3e9f3"/>
<text transform="translate(1260.40 1540.00) scale(0.9500 1)" x="0.43 26.43 49.84 75.76 99.36 110.77 136.33" y="0" font-size="43.6" font-weight="700" fill="#000" stroke="#000" stroke-width="2.0" stroke-linejoin="round">$213.63</text><rect x="1308.11" y="1532.95" width="8.01" height="9.25" fill="#e3e9f3"/><rect x="1324.40" y="1532.95" width="7.48" height="9.25" fill="#e3e9f3"/>
<text transform="translate(1260.40 1589.50) scale(1.0000 1)" x="-1.87 25.25 36.55 47.85 59.15 71.80 99.17" y="0" font-size="43.6" font-weight="700" fill="#000" stroke="#000" stroke-width="2.0" stroke-linejoin="round">billion</text>
<text transform="translate(1697.50 1485.20) scale(0.9765 1)" x="-4.83 18.18 41.26 62.04" y="0" font-size="46.6" font-weight="400" fill="#000" stroke="#e3e9f3" stroke-width="0.7" stroke-linejoin="round">1991</text><rect x="1694.61" y="1480.12" width="9.61" height="6.28" fill="#e3e9f3"/><rect x="1708.25" y="1480.12" width="9.25" height="6.28" fill="#e3e9f3"/><rect x="1760.70" y="1480.12" width="8.82" height="6.28" fill="#e3e9f3"/><rect x="1773.55" y="1480.12" width="9.25" height="6.28" fill="#e3e9f3"/>
<text transform="translate(1697.50 1535.00) scale(0.9500 1)" x="0.43 28.43 55.44 82.51 107.90 121.39 148.26" y="0" font-size="43.6" font-weight="700" fill="#000" stroke="#000" stroke-width="2.0" stroke-linejoin="round">$280.29</text>
<text transform="translate(1697.50 1584.70) scale(1.0000 1)" x="-1.87 25.25 36.55 47.85 59.15 71.80 99.17" y="0" font-size="43.6" font-weight="700" fill="#000" stroke="#000" stroke-width="2.0" stroke-linejoin="round">billion</text>
<text transform="translate(1936.00 1487.80) scale(0.9776 1)" x="-4.83 18.17 41.25 64.14" y="0" font-size="46.6" font-weight="400" fill="#000" stroke="#e3e9f3" stroke-width="0.7" stroke-linejoin="round">1996</text><rect x="1933.10" y="1482.72" width="9.62" height="6.28" fill="#e3e9f3"/><rect x="1946.77" y="1482.72" width="9.26" height="6.28" fill="#e3e9f3"/>
<text transform="translate(1936.00 1538.00) scale(0.9500 1)" x="0.43 26.51 51.10 74.42 98.46 110.87 137.34" y="0" font-size="43.6" font-weight="700" fill="#000" stroke="#000" stroke-width="2.0" stroke-linejoin="round">$271.42</text><rect x="2007.06" y="1530.95" width="8.01" height="9.25" fill="#e3e9f3"/><rect x="2023.35" y="1530.95" width="7.48" height="9.25" fill="#e3e9f3"/>
<text transform="translate(1936.00 1586.50) scale(1.0000 1)" x="-1.87 25.38 36.81 48.25 59.69 72.46 99.97" y="0" font-size="43.6" font-weight="700" fill="#000" stroke="#000" stroke-width="2.0" stroke-linejoin="round">billion</text>
<text transform="translate(2237.40 553.40) scale(1.0400 1)" x="-2.69 21.35 45.91 70.43" y="0" font-size="46.6" font-weight="400" fill="#000" stroke="#e3e9f3" stroke-width="0.7" stroke-linejoin="round">2005</text>
<text transform="translate(2182.60 603.40) scale(0.9500 1)" x="0.43 26.48 51.66 76.93 100.90 111.05 136.72" y="0" font-size="43.6" font-weight="700" fill="#000" stroke="#000" stroke-width="2.0" stroke-linejoin="round">$698.18</text><rect x="2288.46" y="596.35" width="8.01" height="9.25" fill="#e3e9f3"/><rect x="2304.75" y="596.35" width="7.48" height="9.25" fill="#e3e9f3"/>
<text transform="translate(2211.30 652.80) scale(1.0000 1)" x="-1.87 25.21 36.48 47.75 59.02 71.63 98.97" y="0" font-size="43.6" font-weight="700" fill="#000" stroke="#000" stroke-width="2.0" stroke-linejoin="round">billion</text>
<text transform="translate(2556.70 154.00) scale(0.9436 1)" x="-2.69 20.69 41.94 62.73" y="0" font-size="46.6" font-weight="400" fill="#000" stroke="#e3e9f3" stroke-width="0.7" stroke-linejoin="round">2011</text><rect x="2598.73" y="148.92" width="8.58" height="6.28" fill="#e3e9f3"/><rect x="2611.23" y="148.92" width="8.97" height="6.28" fill="#e3e9f3"/><rect x="2618.35" y="148.92" width="8.58" height="6.28" fill="#e3e9f3"/><rect x="2630.85" y="148.92" width="8.97" height="6.28" fill="#e3e9f3"/>
<text transform="translate(2485.50 204.30) scale(0.9220 1)" x="0.43 25.59 48.35 71.82 95.30 106.83 132.25" y="0" font-size="43.6" font-weight="700" fill="#000" stroke="#000" stroke-width="2.0" stroke-linejoin="round">$711.34</text><rect x="2530.71" y="197.25" width="7.48" height="9.25" fill="#e3e9f3"/><rect x="2546.25" y="197.25" width="7.19" height="9.25" fill="#e3e9f3"/><rect x="2552.34" y="197.25" width="7.48" height="9.25" fill="#e3e9f3"/><rect x="2567.89" y="197.25" width="7.19" height="9.25" fill="#e3e9f3"/>
<text transform="translate(2506.70 253.90) scale(1.0000 1)" x="-1.87 25.20 36.45 47.70 58.95 71.55 98.87" y="0" font-size="43.6" font-weight="700" fill="#000" stroke="#000" stroke-width="2.0" stroke-linejoin="round">billion</text>
<text transform="translate(2740.50 632.80) scale(0.9480 1)" x="-2.69 20.68 41.91 65.31" y="0" font-size="46.6" font-weight="400" fill="#000" stroke="#e3e9f3" stroke-width="0.7" stroke-linejoin="round">2015</text><rect x="2782.72" y="627.72" width="8.61" height="6.28" fill="#e3e9f3"/><rect x="2795.27" y="627.72" width="9.01" height="6.28" fill="#e3e9f3"/>
<text transform="translate(2699.00 684.00) scale(0.9500 1)" x="0.43 27.54 53.90 79.76 104.30 115.26" y="0" font-size="43.6" font-weight="700" fill="#000" stroke="#000" stroke-width="2.0" stroke-linejoin="round">$596.1</text><rect x="2808.86" y="676.95" width="8.01" height="9.25" fill="#e3e9f3"/><rect x="2825.15" y="676.95" width="7.48" height="9.25" fill="#e3e9f3"/>
<text transform="translate(2700.90 732.20) scale(1.0000 1)" x="-1.87 25.21 36.48 47.75 59.02 71.63 98.97" y="0" font-size="43.6" font-weight="700" fill="#000" stroke="#000" stroke-width="2.0" stroke-linejoin="round">billion</text>
<text transform="translate(2969.30 150.80) scale(1.0400 1)" x="-2.69 21.76 46.22 70.68" y="0" font-size="46.6" font-weight="400" fill="#000" stroke="#e3e9f3" stroke-width="0.7" stroke-linejoin="round">2020</text>
<text transform="translate(2916.80 201.60) scale(0.9500 1)" x="0.43 26.03 49.24 74.61 98.01 109.63 135.00" y="0" font-size="43.6" font-weight="700" fill="#000" stroke="#000" stroke-width="2.0" stroke-linejoin="round">$712.59</text><rect x="2963.93" y="194.55" width="8.01" height="9.25" fill="#e3e9f3"/><rect x="2980.23" y="194.55" width="7.48" height="9.25" fill="#e3e9f3"/>
<text transform="translate(2943.10 250.70) scale(1.0000 1)" x="-1.87 25.30 36.65 48.00 59.35 72.05 99.47" y="0" font-size="43.6" font-weight="700" fill="#000" stroke="#000" stroke-width="2.0" stroke-linejoin="round">billion</text>
<text transform="translate(3188.80 449.30) scale(1.0300 1)" x="-1.91 22.14 46.19 70.20" y="0" font-size="45.0" font-weight="400" fill="#fff" stroke="#fff" stroke-width="0.7" stroke-linejoin="round">2025</text>
<text transform="translate(3092.20 510.00) scale(0.9700 1)" x="0.28 32.23 62.89 94.25 123.93 138.82 170.66" y="0" font-size="54.5" font-weight="700" fill="#fff" stroke="#fff" stroke-width="2.0" stroke-linejoin="round">$768.33</text>
<text transform="translate(3134.20 569.30) scale(1.0000 1)" x="-2.59 30.87 44.56 58.25 71.94 87.31 121.09" y="0" font-size="54.5" font-weight="700" fill="#fff" stroke="#fff" stroke-width="2.0" stroke-linejoin="round">billion</text>
</svg></body></html>
